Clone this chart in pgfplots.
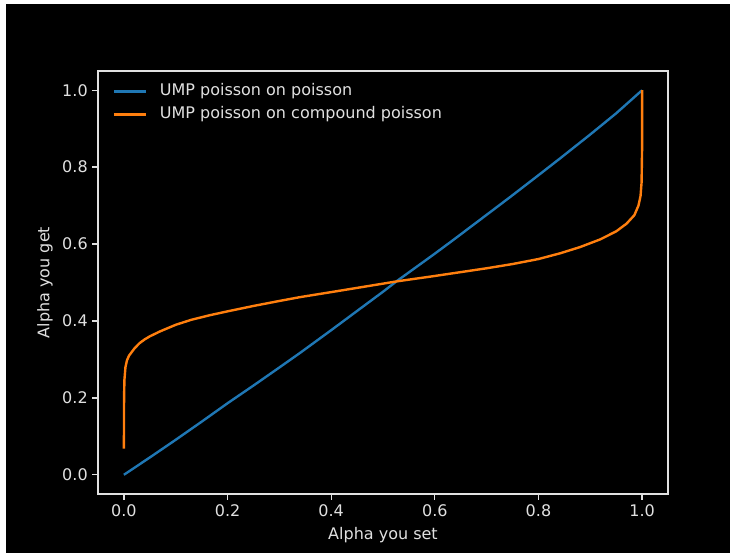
\documentclass[border=0pt]{standalone}
\usepackage{pgfplots}
\pgfplotsset{compat=1.18}
\usepackage{fontspec}
\setmainfont{DejaVu Sans}
\definecolor{mplblue}{HTML}{1F77B4}
\definecolor{mplorange}{HTML}{FF7F0E}
\colorlet{fg}{white!88!black}
\begin{document}
\begin{tikzpicture}
% white frame and black figure background (1px = 0.75pt)
\fill[white] (0pt,0pt) rectangle (548.25pt,414.75pt);
\fill[black] (4.5pt,0pt) rectangle (547.5pt,411.75pt);
\begin{axis}[
  at={(73.5pt,44.25pt)}, anchor=south west,
  scale only axis, width=427.5pt, height=317.25pt,
  xmin=-0.05, xmax=1.05, ymin=-0.05, ymax=1.05,
  xtick={0,0.2,...,1.0}, ytick={0,0.2,...,1.0},
  xticklabel style={/pgf/number format/.cd,fixed,fixed zerofill,precision=1},
  yticklabel style={/pgf/number format/.cd,fixed,fixed zerofill,precision=1},
  /pgf/number format/assume math mode=true,
  xtick pos=bottom, ytick pos=left,
  tick align=outside, major tick length=4.2pt,
  axis line style={fg, line width=0.96pt},
  every tick/.style={fg, line width=0.96pt},
  tick label style={font=\fontsize{12}{14}\selectfont, text=fg},
  xlabel={Alpha you set}, ylabel={Alpha you get},
  xlabel style={at={(axis description cs:0.5,0)}, anchor=center, yshift=-31pt,
    font=\fontsize{12}{14}\selectfont, text=fg},
  ylabel style={at={(axis description cs:-0.093,0.5)}, anchor=center,
    font=\fontsize{12}{14}\selectfont, text=fg},
  legend style={draw=none, fill=none, at={(0,1)}, anchor=north west, xshift=10.8pt, yshift=-9.5pt,
    inner sep=0pt, row sep=6pt,
    nodes={inner sep=0pt, text=fg, font=\fontsize{12}{14}\selectfont, text height=8.8pt, text depth=2.5pt}},
  legend cell align=left,
  /tikz/every odd column/.append style={column sep=9.6pt},
  legend image code/.code={\draw[#1] (0pt,0pt) -- (24pt,0pt);},
]
\addplot[mplblue, line width=1.8pt, line join=round] coordinates {
(0,0) (0.05,0.045) (0.1,0.091) (0.15,0.138) (0.2,0.186) (0.25,0.232)
(0.3,0.279) (0.34,0.317) (0.4,0.376) (0.45,0.426) (0.5,0.476) (0.527,0.504)
(0.6,0.575) (0.635,0.61) (0.7,0.676) (0.75,0.727) (0.8,0.779) (0.842,0.823)
(0.9,0.885) (0.95,0.94) (1,1)
};
\addlegendentry{UMP poisson on poisson}
\addplot[mplorange, line width=1.8pt, line join=round] coordinates {
(0,0.068) (0.0003,0.2) (0.001,0.247) (0.003,0.28) (0.006,0.298) (0.01,0.31)
(0.02,0.328) (0.03,0.342) (0.04,0.352) (0.05,0.36) (0.07,0.373) (0.1,0.39)
(0.13,0.403) (0.166,0.415) (0.2,0.425) (0.25,0.439) (0.3,0.452) (0.34,0.462)
(0.4,0.475) (0.45,0.486) (0.527,0.503) (0.6,0.517) (0.65,0.527) (0.7,0.537)
(0.75,0.548) (0.8,0.561) (0.842,0.576) (0.88,0.592) (0.919,0.612) (0.95,0.633)
(0.97,0.653) (0.985,0.675) (0.993,0.7) (0.997,0.725) (0.999,0.76) (1.0,0.85) (1.0,1.0)
};
\addlegendentry{UMP poisson on compound poisson}
\end{axis}
\end{tikzpicture}
\end{document}
